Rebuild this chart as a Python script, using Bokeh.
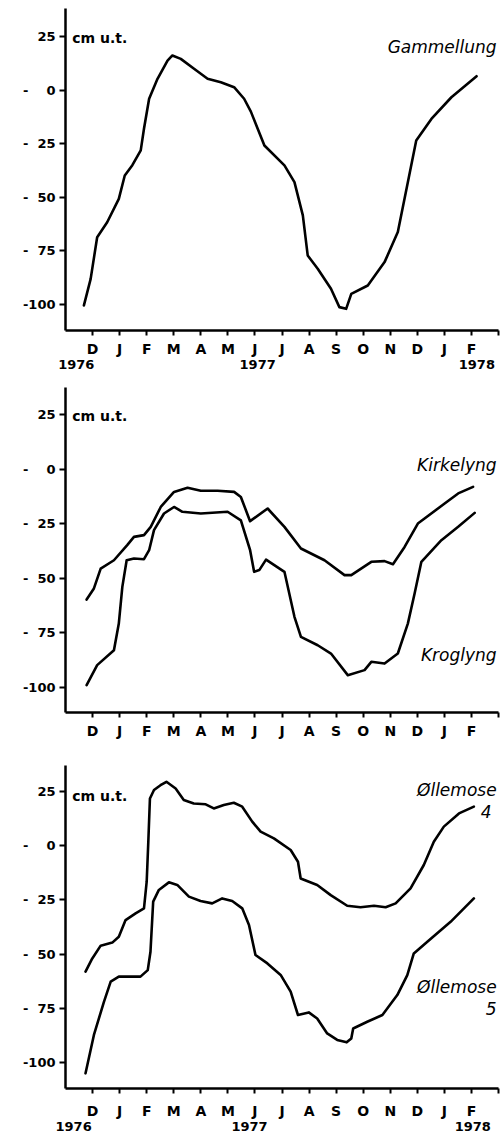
from bokeh.plotting import figure
from bokeh.layouts import column
from bokeh.models import FixedTicker, LinearAxis, Range1d
from bokeh.core.properties import value
from bokeh.embed import file_html
from bokeh.resources import INLINE

# x = months after Dec 1976 (0 = D 1976 ... 14 = F 1978)
months = ["D", "J", "F", "M", "A", "M", "J", "J", "A", "S", "O", "N", "D", "J", "F"]
years = ["1976", "1977", "1978"]
y_ticks = [25, 0, -25, -50, -75, -100]
y_tick_labels = ["25", "-\u2007\u20070", "-\u200725", "-\u200750", "-\u200775", "-100"]
unit_label = "cm u.t."

# Gammellung
gam_x = [-0.32, -0.07, 0.17, 0.54, 0.97, 1.19, 1.47, 1.78, 1.9, 2.09, 2.4, 2.77, 2.95,
         3.26, 3.75, 4.25, 4.74, 5.23, 5.6, 5.85, 6.35, 7.09, 7.46, 7.77, 7.95, 8.32,
         8.81, 9.12, 9.37, 9.56, 10.17, 10.79, 11.28, 11.65, 11.96, 12.52, 13.26, 14.19]
gam_y = [-100.4, -88, -68.6, -61.6, -50.7, -39.8, -35, -28.1, -18, -4, 5.3, 13.8, 16.2,
         14.6, 10, 5.3, 3.7, 1.4, -4, -10, -25.8, -35.1, -42.9, -58.4, -77.1, -83.3,
         -92.6, -101.2, -102, -95, -91.1, -80.2, -66.2, -42.9, -23.5, -13.4, -3.3, 6.5]

# Kirkelyng
kir_x = [-0.22, 0.05, 0.3, 0.79, 1.28, 1.53, 1.9, 2.15, 2.52, 3.01, 3.51, 4.0, 4.62,
         5.23, 5.48, 5.82, 6.47, 7.09, 7.7, 8.57, 9.31, 9.56, 10.3, 10.79, 11.1, 11.53,
         12.02, 13.01, 13.51, 14.06]
kir_y = [-59.7, -54.6, -45.5, -41.7, -34.8, -31, -30.2, -26.4, -17.3, -10.4, -8.5, -9.9,
         -9.9, -10.4, -12.7, -23.8, -18, -26.4, -36.3, -41.7, -48.5, -48.5, -42.4, -42.1,
         -43.5, -35.6, -24.9, -15.7, -11.1, -8.1]

# Kroglyng
kro_x = [-0.22, 0.17, 0.79, 0.97, 1.1, 1.16, 1.26, 1.53, 1.9, 2.09, 2.27, 2.64, 3.01,
         3.32, 4.0, 4.99, 5.48, 5.82, 5.97, 6.16, 6.41, 7.09, 7.46, 7.7, 8.32, 8.81,
         9.43, 10.05, 10.3, 10.79, 11.28, 11.65, 11.9, 12.15, 12.89, 13.51, 14.12]
kro_y = [-98.9, -89.7, -82.9, -70.7, -53.9, -49.3, -41.7, -40.9, -41.2, -37.1, -27.9,
         -20.3, -17.3, -19.5, -20.3, -19.5, -23.4, -37, -47, -46.2, -41.4, -47, -67.6,
         -76.8, -80.6, -84.4, -94.3, -92, -88.2, -89, -84.4, -70.7, -56.9, -42.4, -32.5,
         -26.4, -20]

# Øllemose 4
ol4_x = [-0.26, -0.01, 0.3, 0.73, 0.97, 1.22, 1.59, 1.9, 2.0, 2.06, 2.12, 2.27, 2.51,
         2.73, 3.07, 3.37, 3.74, 4.18, 4.48, 4.85, 5.22, 5.53, 5.9, 6.21, 6.7, 7.32,
         7.59, 7.69, 8.3, 8.8, 9.41, 9.9, 10.4, 10.83, 11.2, 11.75, 12.24, 12.61, 12.98,
         13.54, 14.09]
ol4_y = [-58.1, -52, -46.1, -44.7, -42, -34.3, -31.2, -28.9, -16.6, 1.8, 21.8, 25.7,
         27.9, 29.5, 26.4, 21.1, 19.5, 19.1, 17.2, 18.8, 19.8, 18, 11.1, 6.5, 3.4, -2,
         -7.4, -15.1, -18.1, -22.8, -27.7, -28.4, -27.7, -28.4, -26.6, -19.7, -8.9, 1.8,
         8.8, 14.9, 18]

# Øllemose 5
ol5_x = [-0.26, 0.05, 0.42, 0.67, 0.97, 1.77, 2.04, 2.14, 2.24, 2.45, 2.82, 3.13, 3.56,
         3.99, 4.42, 4.79, 5.16, 5.53, 5.78, 6.02, 6.46, 6.95, 7.32, 7.59, 7.99, 8.3,
         8.67, 9.04, 9.39, 9.56, 9.63, 10.15, 10.71, 11.26, 11.63, 11.87, 12.37, 13.23,
         14.09]
ol5_y = [-105, -87.3, -72, -62.7, -60.4, -60.4, -57.4, -48.9, -25.8, -20.4, -16.9, -18.1,
         -23.5, -25.5, -26.6, -24.3, -25.5, -28.9, -36.6, -50.4, -54.3, -59.6, -67.3,
         -78.1, -76.9, -79.7, -86.6, -89.6, -90.7, -88.9, -84.3, -81.2, -78.1, -68.9,
         -59.7, -49.7, -44.3, -35.1, -24.3]

FONT = value("DejaVu Sans")


def make_panel(height, btop, bbot, y0, y1, month_standoff, year_pos=None):
    p = figure(width=500, height=height, output_backend="svg", toolbar_location=None,
               x_range=Range1d(-1.0, 15.0), y_range=Range1d(y0, y1),
               min_border_left=65, min_border_right=2, min_border_top=btop,
               min_border_bottom=bbot, background_fill_color="white",
               border_fill_color="white")
    p.outline_line_color = None
    p.grid.visible = False

    xa = p.xaxis[0]
    xa.ticker = FixedTicker(ticks=list(range(16)))
    ov = {i: months[i] for i in range(15)}
    ov[15] = ""
    xa.major_label_overrides = ov
    xa.major_label_text_font = "DejaVu Sans"
    xa.major_label_text_font_style = "bold"
    xa.major_label_text_font_size = "14px"
    xa.major_label_text_color = "black"
    xa.major_label_standoff = month_standoff
    xa.axis_line_width = 2.5
    xa.axis_line_color = "black"
    xa.major_tick_line_width = 2
    xa.major_tick_line_color = "black"
    xa.major_tick_in = 0
    xa.major_tick_out = 5
    xa.minor_tick_line_color = None

    ya = p.yaxis[0]
    ya.ticker = FixedTicker(ticks=y_ticks)
    ya.major_label_overrides = {t: l for t, l in zip(y_ticks, y_tick_labels)}
    ya.major_label_text_font = "DejaVu Sans"
    ya.major_label_text_font_style = "bold"
    ya.major_label_text_font_size = "13px"
    ya.major_label_text_color = "black"
    ya.major_label_standoff = 4
    ya.axis_line_width = 2.5
    ya.axis_line_color = "black"
    ya.major_tick_line_width = 2
    ya.major_tick_line_color = "black"
    ya.major_tick_in = 0
    ya.major_tick_out = 6
    ya.minor_tick_line_color = None

    if year_pos is not None:
        ax = LinearAxis(ticker=FixedTicker(ticks=year_pos),
                        major_label_overrides={pp: yy for pp, yy in zip(year_pos, years)})
        ax.axis_line_color = None
        ax.major_tick_line_color = None
        ax.minor_tick_line_color = None
        ax.major_tick_out = 0
        ax.major_tick_in = 0
        ax.major_label_standoff = 0
        ax.major_label_text_font = "DejaVu Sans"
        ax.major_label_text_font_style = "bold"
        ax.major_label_text_font_size = "13px"
        ax.major_label_text_color = "black"
        p.add_layout(ax, "below")
    return p


def unit_text(p, yv):
    p.text(x=[-0.75], y=[yv], text=[unit_label], text_font=FONT, text_font_style="bold",
           text_font_size="14px", text_align="left", text_baseline="middle", text_color="black")


def name_text(p, xs, ys, names):
    p.text(x=xs, y=ys, text=names, text_font=FONT, text_font_style="italic",
           text_font_size="17px", text_align="right", text_baseline="middle", text_color="black")


LW = 2.6
STYLE = dict(line_color="black", line_width=LW, line_join="round", line_cap="round")

p1 = make_panel(372, 8, 42, -112.1, 38.1, 5, year_pos=[-0.6, 6.1, 14.2])
p1.line(gam_x, gam_y, **STYLE)
unit_text(p1, 24.3)
name_text(p1, [14.93], [20], ["Gammellung"])

p2 = make_panel(370, 15, 30, -111.4, 37.4, 5)
p2.line(kir_x, kir_y, **STYLE)
p2.line(kro_x, kro_y, **STYLE)
unit_text(p2, 24.3)
name_text(p2, [14.93, 14.93], [1.8, -85], ["Kirkelyng", "Kroglyng"])

p3 = make_panel(394, 23, 48, -112.0, 37.0, 9, year_pos=[-0.7, 5.8, 14.05])
p3.line(ol4_x, ol4_y, **STYLE)
p3.line(ol5_x, ol5_y, **STYLE)
unit_text(p3, 23)
name_text(p3, [14.93, 14.74, 14.93, 14.93], [25.8, 15.7, -65, -75.2],
          ["Øllemose", "4", "Øllemose", "5"])

layout = column(p1, p2, p3, spacing=0)
open("out.html", "w").write(file_html(layout, INLINE))
